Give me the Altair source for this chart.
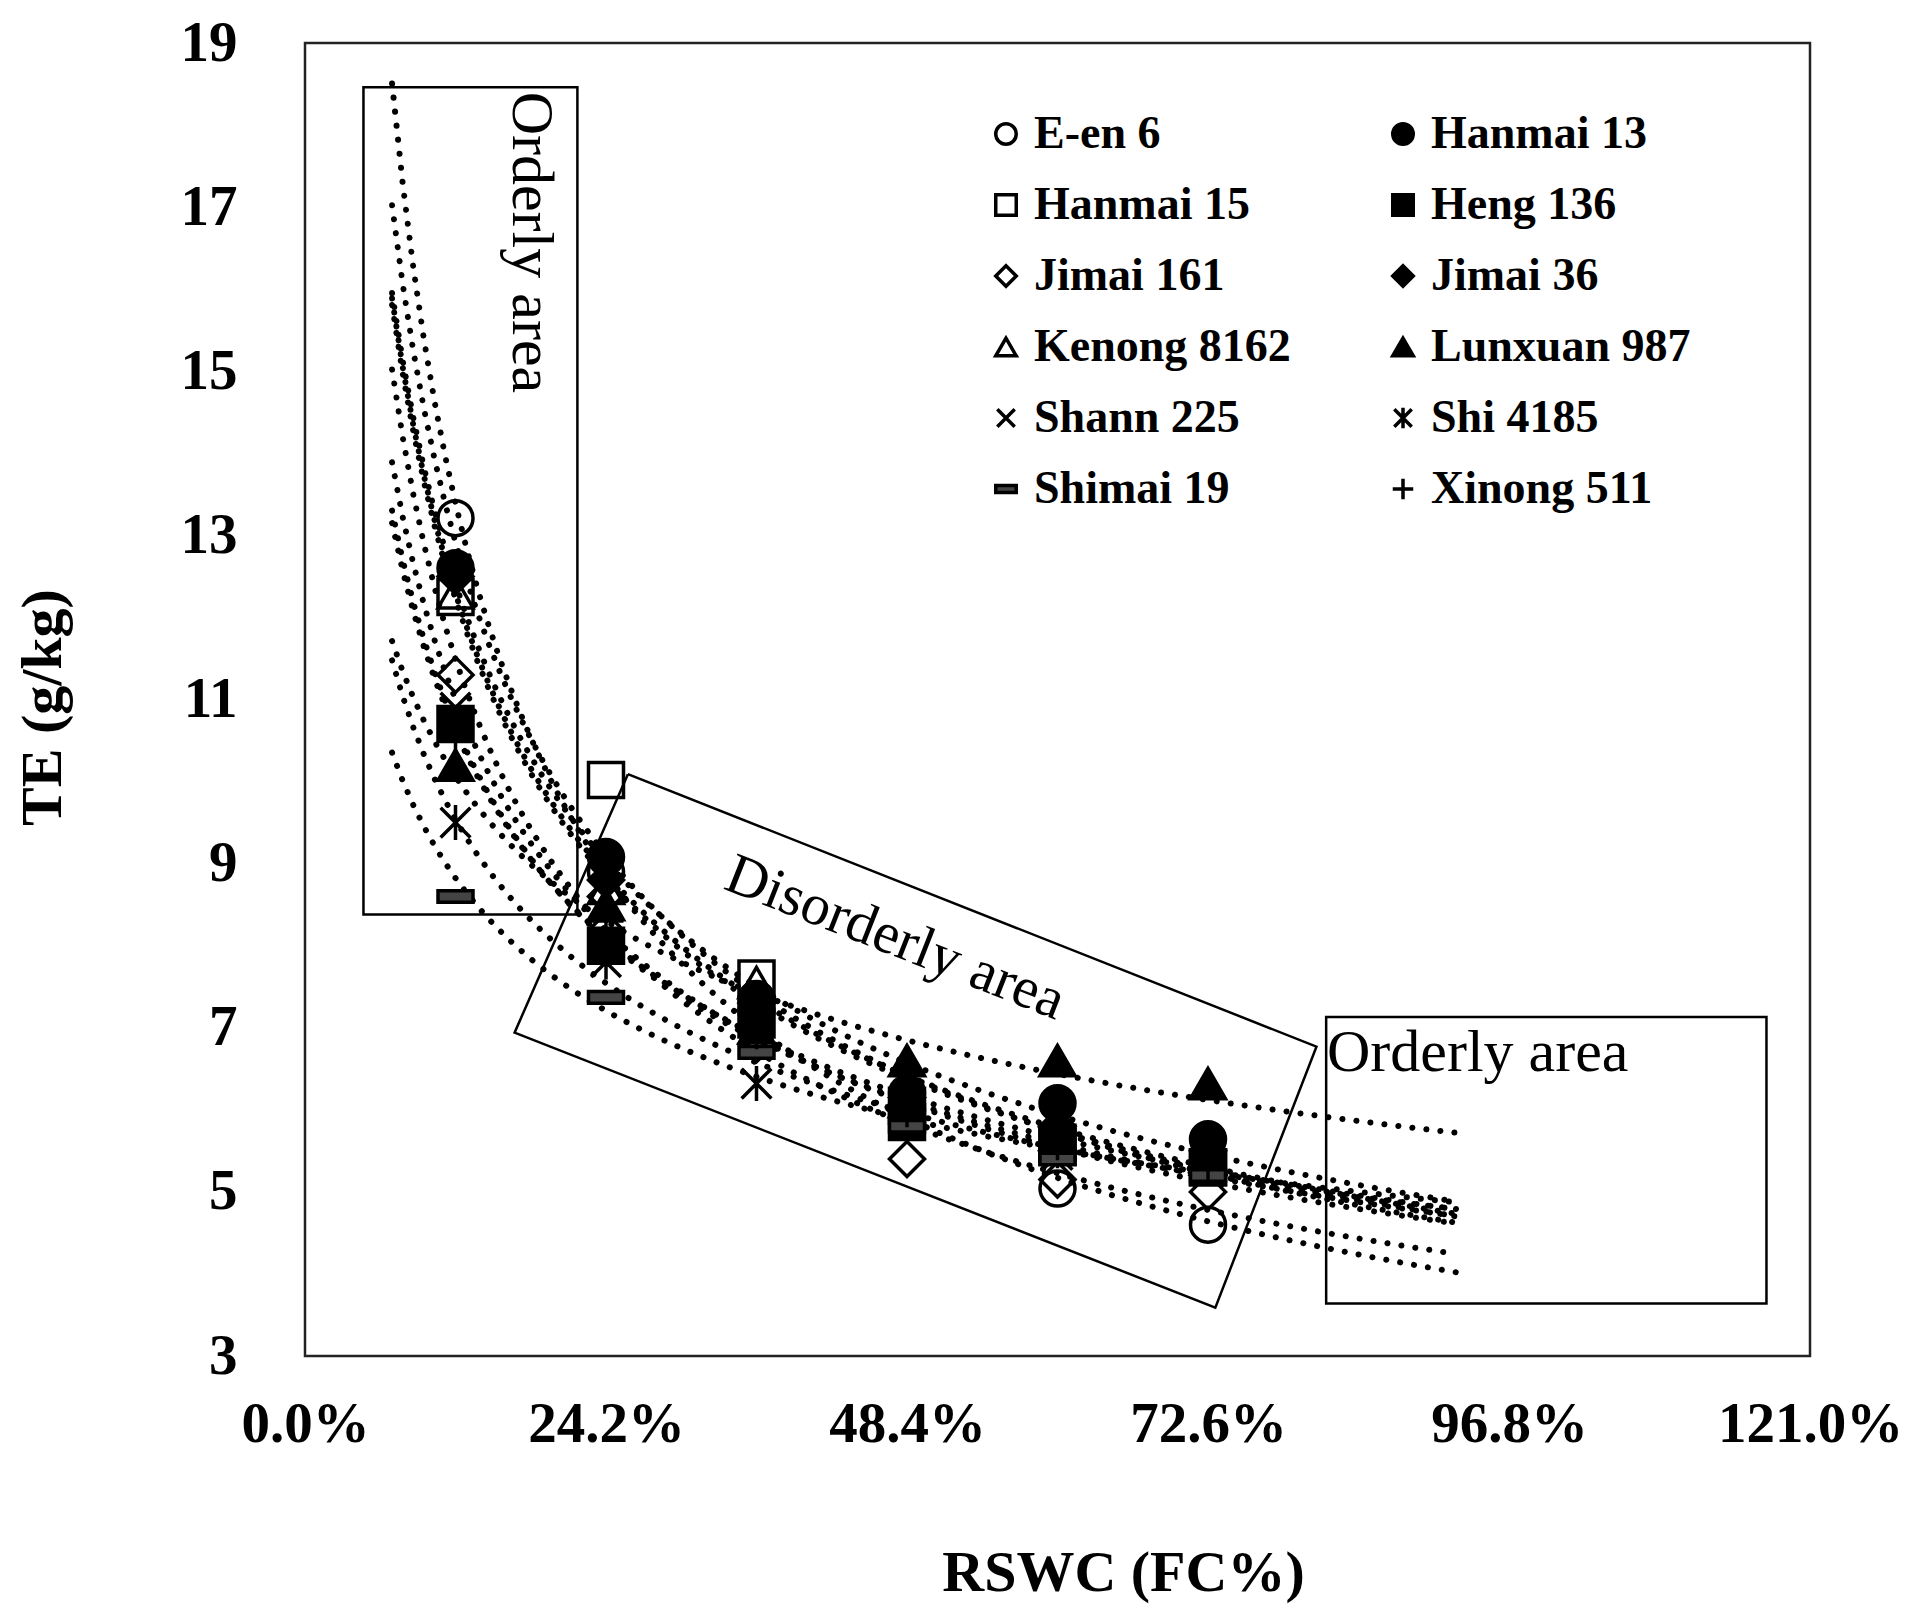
import altair as alt
import pandas as pd

# ---- data ----
RSWC = [0.121, 0.242, 0.363, 0.484, 0.605, 0.726]

VARIETIES = ["E-en 6", "Hanmai 13", "Hanmai 15", "Heng 136", "Jimai 161", "Jimai 36",
             "Kenong 8162", "Lunxuan 987", "Shann 225", "Shi 4185", "Shimai 19", "Xinong 511"]

E_EN_6      = [13.21, 8.90, 7.20, 6.00, 5.04, 4.60]
HANMAI_13   = [12.60, 9.08, 7.35, 6.20, 6.08, 5.64]
HANMAI_15   = [12.25, 10.02, 7.60, 6.05, 5.60, 5.30]
HENG_136    = [10.70, 8.00, 7.10, 5.85, 5.55, 5.30]
JIMAI_161   = [11.30, 8.60, 6.80, 5.40, 5.15, 5.00]
JIMAI_36    = [12.50, 8.80, 7.30, 6.15, 5.80, 5.50]
KENONG_8162 = [12.30, 8.70, 7.55, 6.10, 5.70, 5.40]
LUNXUAN_987 = [10.20, 8.50, 7.00, 6.60, 6.60, 6.32]
SHANN_225   = [10.90, 8.40, 6.90, 5.90, 5.45, 5.25]
SHI_4185    = [9.50, 7.80, 6.32, 5.95, 5.50, 5.30]
SHIMAI_19   = [8.60, 7.37, 6.70, 5.80, 5.40, 5.20]
XINONG_511  = [10.50, 8.30, 6.95, 6.00, 5.60, 5.35]

SERIES = [E_EN_6, HANMAI_13, HANMAI_15, HENG_136, JIMAI_161, JIMAI_36,
          KENONG_8162, LUNXUAN_987, SHANN_225, SHI_4185, SHIMAI_19, XINONG_511]

X_TICKS = [0.0, 0.242, 0.484, 0.726, 0.968, 1.21]
Y_TICKS = [3, 5, 7, 9, 11, 13, 15, 17, 19]

SHAPES = [
    "circle", "circle", "square", "square", "diamond", "diamond",
    "triangle-up", "triangle-up",
    "M-0.85,-0.85L0.85,0.85M-0.85,0.85L0.85,-0.85",
    "M-0.85,-0.85L0.85,0.85M-0.85,0.85L0.85,-0.85M0,-1L0,1",
    "M-1,-0.33H1V0.33H-1Z",
    "M-1,0H1M0,-1V1",
]
FILLS = ["transparent", "black", "transparent", "black", "transparent", "black",
         "transparent", "black", "transparent", "transparent", "#444444", "transparent"]
STROKES = ["black"] * 12

# annotation regions (data units)
BOX_X0 = [0.047, 0.821]
BOX_X1 = [0.219, 1.175]
BOX_Y0 = [8.38, 3.64]
BOX_Y1 = [18.46, 7.13]

POLY_X = [0.2596, 0.8132, 0.7319, 0.1685, 0.2596]
POLY_Y = [10.09, 6.77, 3.59, 6.94, 10.09]

FONT = "Liberation Serif"

df = pd.DataFrame(
    [{"Variety": v, "RSWC": x, "TE": y}
     for v, ys in zip(VARIETIES, SERIES) for x, y in zip(RSWC, ys)]
)
boxes = pd.DataFrame({"x0": BOX_X0, "x1": BOX_X1, "y0": BOX_Y0, "y1": BOX_Y1})
poly = pd.DataFrame({"x": POLY_X, "y": POLY_Y, "i": list(range(len(POLY_X)))})

PLOT_W = 1505
PAD_TOP = 35
PLOT_H = 1348 - PAD_TOP   # plot bottom at page y 1356

xscale = alt.Scale(domain=[0, 1.21], nice=False, zero=False)
yscale = alt.Scale(domain=[3, 19], nice=False, zero=False)

xaxis = alt.Axis(
    values=X_TICKS, format=".1%", title="RSWC (FC%)",
    grid=False, ticks=False, domain=False,
    labelFont=FONT, labelFontSize=57, labelFontWeight="bold", labelColor="black",
    labelPadding=40, labelFlush=False, labelOverlap=False, labelLimit=400,
    titleFont=FONT, titleFontSize=58, titleFontWeight="bold", titleColor="black",
    titleX=818, titleY=234, titleBaseline="alphabetic", titleAlign="center",
)
yaxis = alt.Axis(
    values=Y_TICKS, format="d", title="TE (g/kg)",
    grid=False, ticks=False, domain=False,
    labelFont=FONT, labelFontSize=57, labelFontWeight="bold", labelColor="black",
    labelPadding=68, labelFlush=False, labelOverlap=False, labelLimit=400,
    titleFont=FONT, titleFontSize=58, titleFontWeight="bold", titleColor="black",
    titleX=-245, titleY=664, titleAngle=270, titleBaseline="alphabetic", titleAlign="center",
)


def X(field):
    return alt.X(field, type="quantitative", scale=xscale, axis=xaxis)


def Y(field):
    return alt.Y(field, type="quantitative", scale=yscale, axis=yaxis)


rects = alt.Chart(boxes).mark_rect(fill="transparent", stroke="black", strokeWidth=2.5).encode(
    x=X("x0"), x2="x1", y=Y("y0"), y2="y1"
)

polygon = alt.Chart(poly).mark_line(color="black", strokeWidth=2.5).encode(
    x=X("x"), y=Y("y"), order=alt.Order("i:Q")
)

trend = alt.Chart(df).transform_regression(
    "RSWC", "TE", method="pow", groupby=["Variety"], extent=[0.07, 0.926]
).mark_line(color="black", strokeWidth=6, strokeDash=[0.1, 14], strokeCap="round").encode(
    x=X("RSWC"), y=Y("TE"), detail="Variety:N"
)

leg = alt.Legend(
    title=None, orient="none", legendX=678, legendY=68, columns=2, direction="horizontal",
    columnPadding=89, rowPadding=25, padding=0,
    symbolSize=420, symbolStrokeWidth=3.5, symbolStrokeColor="black",
    labelFont=FONT, labelFontSize=46, labelFontWeight="bold", labelColor="black",
    labelOffset=5, labelLimit=400,
)

points = alt.Chart(df).mark_point(
    filled=False, size=1225, strokeWidth=3.5, opacity=1
).encode(
    x=X("RSWC"), y=Y("TE"),
    shape=alt.Shape("Variety:N", scale=alt.Scale(domain=VARIETIES, range=SHAPES), legend=leg),
    fill=alt.Fill("Variety:N", scale=alt.Scale(domain=VARIETIES, range=FILLS), legend=leg),
    stroke=alt.Stroke("Variety:N", scale=alt.Scale(domain=VARIETIES, range=STROKES), legend=leg),
)

txt_left = alt.Chart(pd.DataFrame({"x": [0.1815], "y": [16.57], "t": ["Orderly area"]})).mark_text(
    font=FONT, fontSize=60, angle=90, align="center", baseline="middle", color="black"
).encode(x=X("x"), y=Y("y"), text="t:N")

txt_mid = alt.Chart(pd.DataFrame({"x": [0.4745], "y": [8.09], "t": ["Disorderly area"]})).mark_text(
    font=FONT, fontSize=58, angle=21.5, align="center", baseline="middle", color="black"
).encode(x=X("x"), y=Y("y"), text="t:N")

txt_right = alt.Chart(pd.DataFrame({"x": [0.8217], "y": [6.47], "t": ["Orderly area"]})).mark_text(
    font=FONT, fontSize=60, align="left", baseline="alphabetic", color="black"
).encode(x=X("x"), y=Y("y"), text="t:N")

chart = alt.layer(rects, polygon, trend, points, txt_left, txt_mid, txt_right).properties(
    width=PLOT_W, height=PLOT_H,
    padding={"left": 297, "top": PAD_TOP, "right": 93, "bottom": 1598 - PAD_TOP - PLOT_H},
    autosize=alt.AutoSizeParams(type="none"),
    background="white",
).configure_view(stroke="#222222", strokeWidth=2.5)

chart.save("out.html", embed_options={"renderer": "svg", "actions": False})
